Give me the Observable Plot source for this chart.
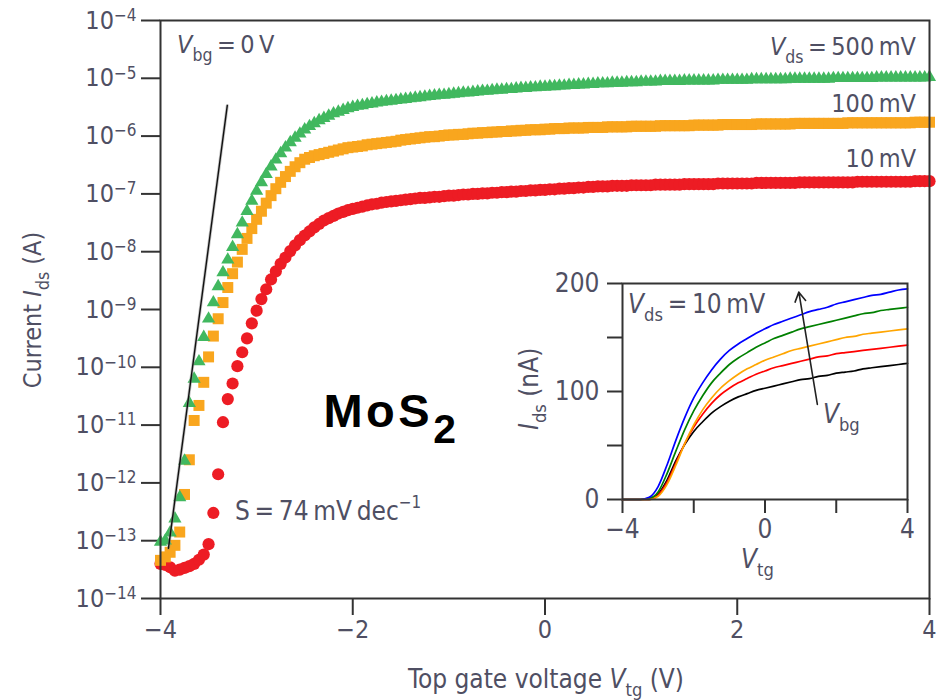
<!DOCTYPE html>
<html><head><meta charset="utf-8">
<script src="https://cdn.jsdelivr.net/npm/d3@7"></script>
<script src="https://cdn.jsdelivr.net/npm/@observablehq/plot@0.6"></script>
<style>
body{margin:0;background:#fff;}
#chart{position:relative;width:944px;height:700px;overflow:hidden;background:#fff;}
#chart svg{position:absolute;overflow:visible;}
</style></head><body><div id="chart"></div>
<script>
// ---------- DATA ----------
// Top-gate sweep (V)
const vtg = [
-4,-3.95,-3.9,-3.85,-3.8,-3.75,-3.7,-3.65,-3.6,-3.55,
-3.5,-3.45,-3.4,-3.35,-3.3,-3.25,-3.2,-3.15,-3.1,-3.05,
-3,-2.95,-2.9,-2.85,-2.8,-2.75,-2.7,-2.65,-2.6,-2.55,
-2.5,-2.45,-2.4,-2.35,-2.3,-2.25,-2.2,-2.15,-2.1,-2.05,
-2,-1.95,-1.9,-1.85,-1.8,-1.75,-1.7,-1.65,-1.6,-1.55,
-1.5,-1.45,-1.4,-1.35,-1.3,-1.25,-1.2,-1.15,-1.1,-1.05,
-1,-0.95,-0.9,-0.85,-0.8,-0.75,-0.7,-0.65,-0.6,-0.55,
-0.5,-0.45,-0.4,-0.35,-0.3,-0.25,-0.2,-0.15,-0.1,-0.05,
0,0.05,0.1,0.15,0.2,0.25,0.3,0.35,0.4,0.45,
0.5,0.55,0.6,0.65,0.7,0.75,0.8,0.85,0.9,0.95,
1,1.05,1.1,1.15,1.2,1.25,1.3,1.35,1.4,1.45,
1.5,1.55,1.6,1.65,1.7,1.75,1.8,1.85,1.9,1.95,
2,2.05,2.1,2.15,2.2,2.25,2.3,2.35,2.4,2.45,
2.5,2.55,2.6,2.65,2.7,2.75,2.8,2.85,2.9,2.95,
3,3.05,3.1,3.15,3.2,3.25,3.3,3.35,3.4,3.45,
3.5,3.55,3.6,3.65,3.7,3.75,3.8,3.85,3.9,3.95,
4];
// log10 of Ids (A)
const log10Ids500mV = [
-13.02,-13.00,-12.86,-12.62,-12.25,-11.62,-10.62,-10.20,-9.90,-9.48,
-9.16,-8.88,-8.60,-8.36,-8.14,-7.92,-7.70,-7.50,-7.30,-7.12,
-6.95,-6.80,-6.66,-6.53,-6.41,-6.30,-6.20,-6.11,-6.03,-5.96,
-5.89,-5.83,-5.78,-5.73,-5.69,-5.65,-5.61,-5.58,-5.55,-5.52,
-5.50,-5.48,-5.47,-5.45,-5.44,-5.42,-5.41,-5.40,-5.39,-5.38,
-5.37,-5.36,-5.35,-5.34,-5.33,-5.32,-5.31,-5.30,-5.29,-5.29,
-5.28,-5.27,-5.26,-5.25,-5.25,-5.24,-5.23,-5.22,-5.22,-5.21,
-5.20,-5.20,-5.19,-5.19,-5.18,-5.17,-5.17,-5.16,-5.16,-5.15,
-5.15,-5.14,-5.14,-5.13,-5.13,-5.12,-5.12,-5.11,-5.11,-5.10,
-5.10,-5.09,-5.09,-5.09,-5.08,-5.08,-5.08,-5.07,-5.07,-5.07,
-5.06,-5.06,-5.06,-5.06,-5.05,-5.05,-5.05,-5.05,-5.05,-5.04,
-5.04,-5.04,-5.04,-5.04,-5.04,-5.04,-5.03,-5.03,-5.03,-5.03,
-5.03,-5.03,-5.03,-5.02,-5.02,-5.02,-5.02,-5.02,-5.02,-5.02,
-5.02,-5.01,-5.01,-5.01,-5.01,-5.01,-5.01,-5.01,-5.01,-5.01,
-5.00,-5.00,-5.00,-5.00,-5.00,-5.00,-5.00,-5.00,-5.00,-4.99,
-4.99,-4.99,-4.99,-4.99,-4.99,-4.99,-4.99,-4.99,-4.99,-4.99,
-4.98];
const log10Ids100mV = [
-13.34,-13.28,-13.20,-13.08,-12.85,-12.20,-11.60,-10.92,-10.66,-10.26,
-9.82,-9.46,-9.16,-8.88,-8.62,-8.38,-8.18,-7.96,-7.77,-7.60,
-7.44,-7.30,-7.16,-7.03,-6.91,-6.80,-6.70,-6.61,-6.53,-6.46,
-6.40,-6.37,-6.34,-6.32,-6.30,-6.28,-6.26,-6.24,-6.22,-6.20,
-6.19,-6.18,-6.17,-6.15,-6.14,-6.13,-6.12,-6.11,-6.10,-6.09,
-6.07,-6.06,-6.05,-6.04,-6.03,-6.02,-6.01,-6.01,-6.00,-5.99,
-5.98,-5.98,-5.97,-5.97,-5.96,-5.95,-5.95,-5.94,-5.94,-5.93,
-5.93,-5.92,-5.92,-5.91,-5.91,-5.90,-5.90,-5.89,-5.89,-5.89,
-5.88,-5.88,-5.87,-5.87,-5.87,-5.86,-5.86,-5.86,-5.86,-5.85,
-5.85,-5.85,-5.85,-5.84,-5.84,-5.84,-5.84,-5.84,-5.83,-5.83,
-5.83,-5.83,-5.83,-5.83,-5.82,-5.82,-5.82,-5.82,-5.82,-5.82,
-5.82,-5.81,-5.81,-5.81,-5.81,-5.81,-5.81,-5.80,-5.80,-5.80,
-5.80,-5.80,-5.80,-5.80,-5.79,-5.79,-5.79,-5.79,-5.79,-5.79,
-5.79,-5.79,-5.78,-5.78,-5.78,-5.78,-5.78,-5.78,-5.78,-5.78,
-5.78,-5.78,-5.78,-5.77,-5.77,-5.77,-5.77,-5.77,-5.77,-5.77,
-5.77,-5.77,-5.77,-5.77,-5.77,-5.77,-5.77,-5.76,-5.76,-5.76,
-5.76];
const log10Ids10mV = [
-13.40,-13.42,-13.46,-13.52,-13.50,-13.47,-13.44,-13.40,-13.33,-13.24,
-13.06,-12.52,-11.85,-10.95,-10.55,-10.28,-9.98,-9.74,-9.50,-9.24,
-9.02,-8.82,-8.65,-8.48,-8.34,-8.21,-8.10,-7.99,-7.89,-7.80,
-7.72,-7.65,-7.58,-7.52,-7.46,-7.42,-7.38,-7.34,-7.31,-7.28,
-7.26,-7.24,-7.22,-7.20,-7.18,-7.17,-7.15,-7.14,-7.13,-7.12,
-7.11,-7.10,-7.09,-7.08,-7.07,-7.07,-7.06,-7.05,-7.05,-7.04,
-7.03,-7.03,-7.02,-7.01,-7.01,-7.00,-7.00,-6.99,-6.99,-6.98,
-6.98,-6.97,-6.97,-6.96,-6.96,-6.95,-6.95,-6.94,-6.94,-6.93,
-6.93,-6.92,-6.92,-6.91,-6.91,-6.90,-6.90,-6.89,-6.89,-6.88,
-6.88,-6.87,-6.87,-6.87,-6.86,-6.86,-6.86,-6.86,-6.85,-6.85,
-6.85,-6.85,-6.85,-6.84,-6.84,-6.84,-6.84,-6.84,-6.84,-6.83,
-6.83,-6.83,-6.83,-6.83,-6.83,-6.83,-6.82,-6.82,-6.82,-6.82,
-6.82,-6.82,-6.82,-6.82,-6.81,-6.81,-6.81,-6.81,-6.81,-6.81,
-6.81,-6.81,-6.81,-6.80,-6.80,-6.80,-6.80,-6.80,-6.80,-6.80,
-6.80,-6.80,-6.80,-6.80,-6.80,-6.79,-6.79,-6.79,-6.79,-6.79,
-6.79,-6.79,-6.79,-6.79,-6.79,-6.79,-6.79,-6.78,-6.78,-6.78,
-6.78];
// subthreshold fit line end points (Vtg, log10 Ids)
const fitVtg = [-3.917, -3.305];
const fitLog10Ids = [-13.13, -5.47];
const xTicks = [-4, -2, 0, 2, 4];
const yTickExponents = [-14, -13, -12, -11, -10, -9, -8, -7, -6, -5, -4];

// Inset: linear Ids (nA) vs Vtg for several back-gate voltages, Vds = 10 mV
const insetVtg = [-4,-3.75,-3.5,-3.25,-3,-2.75,-2.5,-2.25,-2,-1.75,-1.5,-1.25,-1,-0.75,-0.5,-0.25,0,0.25,0.5,0.75,1,1.25,1.5,1.75,2,2.25,2.5,2.75,3,3.25,3.5,3.75,4];
const insetBlack  = [0,0,0,0,5,18,36,51,63,72,80,86,91,95,98,101,103,105,107,109,111,112,114,115,117,118,119,121,122,123,124,125,126];
const insetRed    = [0,0,0,0,4,16,34,52,67,79,89,97,103,108,112,116,119,122,124,126,128,130,132,133,135,136,137,138,139,140,141,142,143];
const insetOrange = [0,0,0,0,3,14,32,52,69,83,94,103,110,116,121,125,129,132,135,138,140,142,144,146,148,150,151,153,154,155,156,157,158];
const insetGreen  = [0,0,0,1,7,24,45,65,82,96,108,117,125,131,136,141,145,149,152,155,158,160,162,164,166,168,170,172,173,175,176,177,178];
const insetBlue   = [0,0,0,2,12,32,55,76,94,108,120,130,138,144,149,154,158,162,165,168,171,174,176,178,181,183,185,187,189,190,192,194,195];
const insetXTicks = [-4, -2, 0, 2, 4];
const insetYTicks = [0, 50, 100, 150, 200];
// Vbg arrow (Vtg, Ids nA): tail -> head
const arrowVbg = [{x1: 1.47, y1: 88, x2: 0.95, y2: 192}];

// ---------- STYLE ----------
const FONT = "'Liberation Sans Narrow','DejaVu Sans Condensed','Open Sans',sans-serif";
const TXT = "#4f4f63";
const AX = "#333";
const C_GREEN = "#41b85f", C_ORANGE = "#f9a61e", C_RED = "#ed1c24";

const minus = s => String(s).replace("-", "\u2212");
const toRows = (ys) => vtg.map((v, i) => ({vtg: v, ids: Math.pow(10, ys[i])}));
const red = toRows(log10Ids10mV), orange = toRows(log10Ids100mV), green = toRows(log10Ids500mV);
const fit = fitVtg.map((v, i) => ({vtg: v, ids: Math.pow(10, fitLog10Ids[i])}));

function richText(svg, x, y, parts, opt = {}) {
  const size = opt.size || 24;
  const t = d3.select(svg).append("text")
    .attr("x", x).attr("y", y)
    .attr("text-anchor", opt.anchor || "start")
    .attr("font-size", size)
    .attr("font-family", opt.family || FONT)
    .attr("font-weight", opt.weight || "normal")
    .attr("fill", opt.fill || TXT);
  if (opt.spacing) t.attr("letter-spacing", opt.spacing);
  if (opt.rotate) t.attr("transform", `rotate(${opt.rotate},${x},${y})`);
  let shift = 0;
  for (const p of parts) {
    const o = typeof p === "string" ? {t: p} : p;
    const ts = t.append("tspan").text(o.t);
    let target = 0;
    if (o.sub) { target = (o.shift ?? 0.3) * size; ts.attr("font-size", (o.scale ?? 0.7) * size); }
    if (o.sup) { target = -(o.shift ?? 0.42) * size; ts.attr("font-size", (o.scale ?? 0.65) * size); }
    if (o.i) ts.attr("font-style", "italic");
    if (target - shift !== 0) ts.attr("dy", target - shift);
    shift = target;
  }
  return t;
}

// ---------- MAIN PLOT ----------
const main = Plot.plot({
  width: 944, height: 700,
  marginLeft: 160, marginRight: 15, marginTop: 20, marginBottom: 102,
  style: {fontFamily: FONT, fontSize: "25px", color: TXT, background: "transparent", overflow: "visible"},
  x: {domain: [-4, 4]},
  y: {type: "log", domain: [1e-14, 1e-4]},
  marks: [
    Plot.axisX({ticks: xTicks, tickSize: 17, tickPadding: 5, strokeWidth: 2, stroke: AX, fill: TXT,
      tickFormat: d => minus(d), label: null}),
    Plot.axisY({ticks: yTickExponents.map(e => Math.pow(10, e)), tickSize: 19, tickPadding: 5, strokeWidth: 2, stroke: AX, fill: TXT,
      tickFormat: d => "10^" + minus(Math.round(Math.log10(d))), label: null}),
    Plot.dot(red, {x: "vtg", y: "ids", r: 6.1, fill: C_RED}),
    Plot.dot(orange, {x: "vtg", y: "ids", symbol: "square", r: 6.2, fill: C_ORANGE}),
    Plot.dot(green, {x: "vtg", y: "ids", symbol: "triangle", r: 4.9, fill: C_GREEN}),
    Plot.line(fit, {x: "vtg", y: "ids", stroke: "#888", strokeWidth: 3, strokeOpacity: 0.5}),
    Plot.line(fit, {x: "vtg", y: "ids", stroke: "#111", strokeWidth: 1.4}),
    Plot.frame({stroke: AX, strokeWidth: 2})
  ]
});
main.style.left = "0px"; main.style.top = "0px";
document.getElementById("chart").appendChild(main);

// superscript exponents on y tick labels
d3.select(main).selectAll('g[aria-label="y-axis tick label"] text').each(function () {
  const s = this.textContent; if (!s.includes("^")) return;
  const [base, ex] = s.split("^");
  const el = d3.select(this); el.text("");
  el.append("tspan").text(base);
  el.append("tspan").attr("dy", "-0.45em").attr("font-size", "0.68em").text(ex);
});

const sx = main.scale("x"), sy = main.scale("y");
const X = v => sx.apply(v), Y = e => sy.apply(Math.pow(10, e));

richText(main, X(-3.823), Y(-4.571), [{t: "V", i: true}, {t: "bg", sub: true}, {t: "\u2009=\u20090\u2009V"}], {size: 25});
richText(main, X(3.865), Y(-4.606), [{t: "V", i: true}, {t: "ds", sub: true}, {t: "\u2009=\u2009500\u2009mV"}], {size: 25, anchor: "end"});
richText(main, X(3.865), Y(-5.59), ["100\u2009mV"], {size: 25, anchor: "end"});
richText(main, X(3.865), Y(-6.543), ["10\u2009mV"], {size: 25, anchor: "end"});
richText(main, X(-3.219), Y(-12.65), ["S\u2009=\u200974\u2009mV\u2009dec", {t: "\u22121", sup: true, shift: 0.45}], {size: 26});
richText(main, X(-2.30), Y(-11.04), ["MoS", {t: "2", sub: true, shift: 0.35, scale: 0.87}], {size: 47, weight: "bold", fill: "#000", spacing: 3.5, family: "'Liberation Sans',Arial,sans-serif"});
// axis titles
richText(main, 546, 688, ["Top gate voltage ", {t: "V", i: true}, {t: "tg", sub: true}, " (V)"], {size: 26, anchor: "middle"});
richText(main, 41, 310, ["Current ", {t: "I", i: true}, {t: "ds", sub: true}, " (A)"], {size: 25, anchor: "middle", rotate: -90});

// ---------- INSET ----------
const insetSeries = [
  {name: "black", color: "#222222", values: insetBlack},
  {name: "red", color: "#e8262b", values: insetRed},
  {name: "green", color: "#4cbb60", values: insetGreen},
  {name: "blue", color: "#3c4aa2", values: insetBlue},
  {name: "orange", color: "#f7a520", values: insetOrange}
];
const insetRows = insetSeries.flatMap(s => insetVtg.map((v, i) => ({vtg: v, ids: s.values[i], name: s.name})));
const inset = Plot.plot({
  width: 444, height: 340,
  marginLeft: 122, marginRight: 37, marginTop: 23, marginBottom: 101,
  style: {fontFamily: FONT, fontSize: "26px", color: TXT, background: "transparent", overflow: "visible"},
  x: {domain: [-4, 4]},
  y: {domain: [0, 200]},
  color: {domain: insetSeries.map(s => s.name), range: insetSeries.map(s => s.color)},
  marks: [
    Plot.rect([0], {x1: -4, x2: 4, y1: 0, y2: 200, fill: "white"}),
    Plot.axisX({ticks: insetXTicks, tickSize: 14, tickPadding: 6, strokeWidth: 2, stroke: AX, fill: TXT,
      tickFormat: d => (d === -2 || d === 2) ? "" : minus(d), label: null}),
    Plot.axisY({ticks: insetYTicks, tickSize: 15, tickPadding: 8, strokeWidth: 2, stroke: AX, fill: TXT,
      tickFormat: d => (d % 100 === 0) ? String(d) : "", label: null}),
    Plot.line(insetRows, {x: "vtg", y: "ids", z: "name", stroke: "name", strokeWidth: 1.7, curve: "monotone-x"}),
    Plot.arrow(arrowVbg, {x1: "x1", y1: "y1", x2: "x2", y2: "y2", stroke: "#222", strokeWidth: 1.6, headLength: 10, bend: 0}),
    Plot.frame({stroke: AX, strokeWidth: 2})
  ]
});
inset.style.left = "500px"; inset.style.top = "260px";
document.getElementById("chart").appendChild(inset);
const ix = inset.scale("x"), iy = inset.scale("y");
richText(inset, ix.apply(-3.83), iy.apply(172), [{t: "V", i: true}, {t: "ds", sub: true}, {t: "\u2009=\u200910\u2009mV"}], {size: 26});
richText(inset, ix.apply(1.64), iy.apply(70), [{t: "V", i: true}, {t: "bg", sub: true}], {size: 26});
richText(inset, ix.apply(-0.2), 308, [{t: "V", i: true}, {t: "tg", sub: true}], {size: 26, anchor: "middle"});
richText(inset, 38, iy.apply(102), [{t: "I", i: true}, {t: "ds", sub: true}, " (nA)"], {size: 26, anchor: "middle", rotate: -90});
</script></body></html>
